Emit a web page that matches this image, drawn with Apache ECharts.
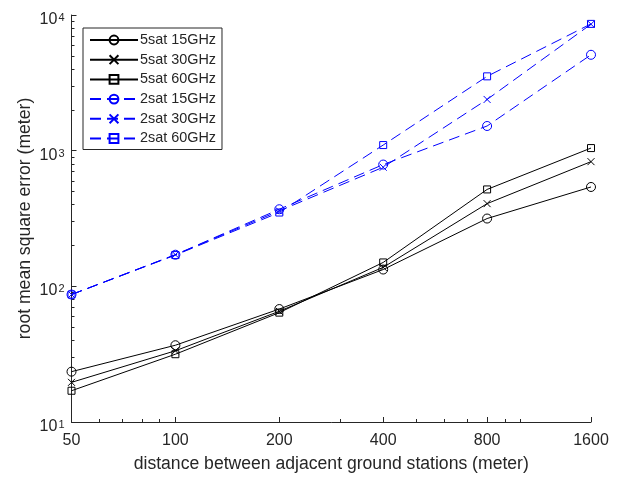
<!DOCTYPE html>
<html>
<head>
<meta charset="utf-8">
<script src="https://cdn.jsdelivr.net/npm/echarts@6/dist/echarts.min.js"></script>
<style>
html,body{margin:0;padding:0;background:#fff;}
#chart{width:621px;height:478px;}
</style>
</head>
<body>
<div id="chart"></div>
<script>
const distances = [50, 100, 200, 400, 800, 1600];
const xMajorTicks = [50, 100, 200, 400, 800, 1600];
const xMinorTicks = [60, 70, 80, 90, 300, 500, 600, 700, 900, 1000];
const yMajorTicks = [10, 100, 1000, 10000];
const yMinorTicks = [20, 30, 40, 50, 60, 70, 80, 90, 200, 300, 400, 500, 600, 700, 800, 900, 2000, 3000, 4000, 5000, 6000, 7000, 8000, 9000];

const seriesNames = ['5sat 15GHz', '5sat 30GHz', '5sat 60GHz', '2sat 15GHz', '2sat 30GHz', '2sat 60GHz'];
const sat5_15 = [23.5, 36.8, 68, 133, 316, 540];
const sat5_30 = [19.6, 33.5, 65.5, 138, 407, 830];
const sat5_60 = [17, 31.6, 64, 150, 518, 1045];
const sat2_15 = [87, 171, 370, 790, 1520, 5090];
const sat2_30 = [87, 171, 360, 755, 2385, 8550];
const sat2_60 = [87, 170, 350, 1100, 3530, 8600];
const seriesValues = [sat5_15, sat5_30, sat5_60, sat2_15, sat2_30, sat2_60];

const BLACK = '#000000';
const BLUE = '#0000FF';
const AXIS = '#262626';
const FONT = 'Liberation Sans, Arial, Helvetica, sans-serif';
const X_SYM = 'path://M0,0L10,10M10,0L0,10';

const styles = [
  {color: BLACK, dash: 'solid', symbol: 'circle', size: 9},
  {color: BLACK, dash: 'solid', symbol: X_SYM, size: 7},
  {color: BLACK, dash: 'solid', symbol: 'rect', size: 7},
  {color: BLUE, dash: [11, 6], symbol: 'circle', size: 9},
  {color: BLUE, dash: [11, 6], symbol: X_SYM, size: 7},
  {color: BLUE, dash: [11, 6], symbol: 'rect', size: 7}
];

const series = seriesNames.map((name, i) => ({
  name: name,
  type: 'line',
  xAxisIndex: 0,
  yAxisIndex: 0,
  data: distances.map((d, j) => [d, seriesValues[i][j]]),
  symbol: styles[i].symbol,
  symbolSize: styles[i].size,
  showSymbol: true,
  lineStyle: {color: styles[i].color, width: 1, type: styles[i].dash},
  itemStyle: {color: 'rgba(0,0,0,0)', borderColor: styles[i].color, borderWidth: 1},
  emphasis: {disabled: true},
  z: 6 - i
}));

const chart = echarts.init(document.getElementById('chart'), null, {renderer: 'canvas'});
chart.setOption({
  animation: false,
  backgroundColor: '#fff',
  textStyle: {fontFamily: FONT},
  grid: {left: 71.5, right: 30, top: 15, bottom: 53, containLabel: false},
  legend: {
    orient: 'vertical',
    left: 83,
    top: 28,
    padding: [5, 6, 4, 6],
    itemWidth: 48,
    itemHeight: 11,
    itemGap: 5.7,
    borderColor: AXIS,
    borderWidth: 1,
    backgroundColor: '#fff',
    textStyle: {fontFamily: FONT, fontSize: 14.4, color: AXIS, lineHeight: 12, padding: [0, 0, 0, -3]},
    data: seriesNames,
    selectedMode: false
  },
  xAxis: [
    {
      type: 'log', logBase: 10, min: 50, max: 1600,
      position: 'bottom',
      name: 'distance between adjacent ground stations (meter)',
      nameLocation: 'middle',
      nameGap: 33,
      nameMoveOverlap: false,
      nameTextStyle: {fontFamily: FONT, fontSize: 17.6, color: AXIS},
      axisLine: {show: true, lineStyle: {color: AXIS, width: 1}},
      axisTick: {show: true, inside: true, length: 5, lineStyle: {color: AXIS}, customValues: xMajorTicks},
      axisLabel: {show: true, fontFamily: FONT, fontSize: 16, color: AXIS, margin: 11, customValues: xMajorTicks,
        formatter: v => String(Math.round(v))},
      splitLine: {show: false},
      minorTick: {show: false}
    },
    {
      type: 'log', logBase: 10, min: 50, max: 1600,
      position: 'bottom',
      axisLine: {show: false},
      axisTick: {show: true, inside: true, length: 3, lineStyle: {color: AXIS}, customValues: xMinorTicks},
      axisLabel: {show: false},
      splitLine: {show: false}
    }
  ],
  yAxis: [
    {
      type: 'log', logBase: 10, min: 10, max: 10000,
      position: 'left',
      name: 'root mean square error (meter)',
      nameLocation: 'middle',
      nameGap: 37,
      nameMoveOverlap: false,
      nameTextStyle: {fontFamily: FONT, fontSize: 17.6, color: AXIS},
      axisLine: {show: true, lineStyle: {color: AXIS, width: 1}},
      axisTick: {show: true, inside: true, length: 5, lineStyle: {color: AXIS}, customValues: yMajorTicks},
      axisLabel: {
        show: true, margin: 7, customValues: yMajorTicks,
        padding: [10, 0, 0, 0],
        formatter: v => '{b|10}{s|' + Math.round(Math.log10(v)) + '}',
        rich: {
          b: {fontFamily: FONT, fontSize: 16, color: AXIS, lineHeight: 15, verticalAlign: 'bottom'},
          s: {fontFamily: FONT, fontSize: 11, color: AXIS, lineHeight: 11, verticalAlign: 'top', padding: [0, 0, 8, 1]}
        }
      },
      splitLine: {show: false},
      minorTick: {show: false}
    },
    {
      type: 'log', logBase: 10, min: 10, max: 10000,
      position: 'left',
      axisLine: {show: false},
      axisTick: {show: true, inside: true, length: 3, lineStyle: {color: AXIS}, customValues: yMinorTicks},
      axisLabel: {show: false},
      splitLine: {show: false}
    }
  ],
  series: series
});
</script>
</body>
</html>
